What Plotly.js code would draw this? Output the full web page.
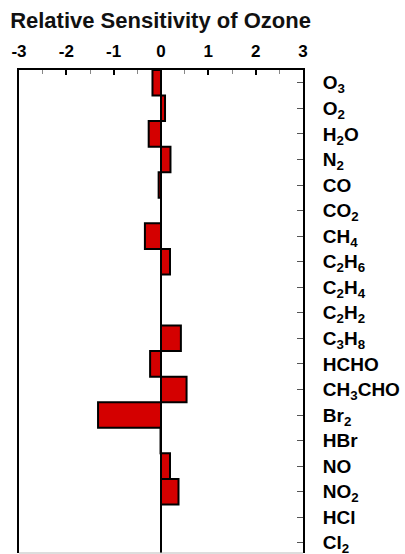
<!DOCTYPE html>
<html>
<head>
<meta charset="utf-8">
<script src="https://cdn.plot.ly/plotly-3.0.1.min.js"></script>
<style>html,body{margin:0;padding:0;background:#fff;overflow:hidden;}</style>
</head>
<body>
<div id="chart" style="width:405px;height:554px;"></div>
<script>
const species = ["O<sub>3</sub>","O<sub>2</sub>","H<sub>2</sub>O","N<sub>2</sub>","CO","CO<sub>2</sub>","CH<sub>4</sub>","C<sub>2</sub>H<sub>6</sub>","C<sub>2</sub>H<sub>4</sub>","C<sub>2</sub>H<sub>2</sub>","C<sub>3</sub>H<sub>8</sub>","HCHO","CH<sub>3</sub>CHO","Br<sub>2</sub>","HBr","NO","NO<sub>2</sub>","HCl","Cl<sub>2</sub>"];
const sensitivity = [-0.18, 0.085, -0.26, 0.2, -0.05, 0.0, -0.34, 0.19, 0.0, 0.0, 0.42, -0.23, 0.54, -1.33, -0.01, 0.19, 0.37, 0.0, 0.0];
const xTicks = [-3, -2, -1, 0, 1, 2, 3];

const positions = species.map((s, i) => i);

const trace = {
  type: 'bar',
  orientation: 'h',
  x: sensitivity,
  y: positions,
  width: 1,
  marker: {color: '#d40000', line: {color: '#000', width: 2}},
  hoverinfo: 'x'
};

const layout = {
  width: 405, height: 554,
  margin: {l: 19, r: 102, t: 70, b: 1},
  paper_bgcolor: '#fff', plot_bgcolor: '#fff',
  showlegend: false,
  font: {family: 'Liberation Sans, Arial, sans-serif', color: '#000'},
  title: {text: '<b>Relative Sensitivity of Ozone</b>', x: 0.025, xanchor: 'left', y: 0.963, yanchor: 'middle',
          font: {size: 22, family: 'Liberation Sans, Arial, sans-serif', color: '#111'}},
  xaxis: {
    side: 'top', range: [-3, 3], tickvals: xTicks, ticktext: xTicks.map(v => '<b>' + v + '</b>'),
    ticks: 'inside', ticklen: 5, tickwidth: 2, tickcolor: '#000',
    minor: {dtick: 0.5, ticks: 'inside', ticklen: 4, tickwidth: 1, tickcolor: '#888'},
    showline: true, linecolor: '#000', linewidth: 2, mirror: false,
    showgrid: false, zeroline: true, zerolinecolor: '#000', zerolinewidth: 2,
    tickfont: {size: 17, color: '#000'}, ticklabelstandoff: 4, fixedrange: true
  },
  yaxis: {
    side: 'right', range: [18.4, -0.5], tickvals: positions, ticktext: species.map(s => '<b>' + s + '</b>'),
    ticks: 'inside', ticklen: 6, tickwidth: 1, tickcolor: '#555',
    showline: true, linecolor: '#000', linewidth: 2, mirror: true,
    showgrid: false, zeroline: false, ticklabeloverflow: 'allow',
    tickfont: {size: 19, color: '#000'}, ticklabelstandoff: 14, fixedrange: true
  },
  shapes: [{type: 'line', xref: 'paper', yref: 'paper', x0: 0, x1: 1, y0: 0, y1: 0,
            line: {color: '#bbb', width: 1}}]
};

Plotly.newPlot('chart', [trace], layout, {displayModeBar: false, staticPlot: true});
</script>
</body>
</html>
